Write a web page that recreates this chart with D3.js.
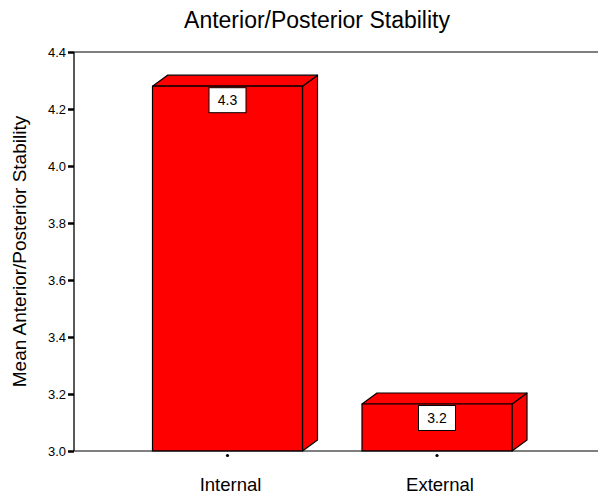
<!DOCTYPE html>
<html>
<head>
<meta charset="utf-8">
<script src="https://cdn.jsdelivr.net/npm/d3@7"></script>
<style>
  html, body { margin: 0; padding: 0; background: #fff; }
  svg { display: block; font-family: Arial, "Liberation Sans", sans-serif; }
</style>
</head>
<body>
<svg id="chart" width="598" height="497"></svg>
<script>
const categories = ["Internal", "External"];
const values = [4.28, 3.165];
const yTicks = [3.0, 3.2, 3.4, 3.6, 3.8, 4.0, 4.2, 4.4];
const titleText = "Anterior/Posterior Stability";
const yLabelText = "Mean Anterior/Posterior Stability";

const svg = d3.select("#chart");
const W = 598, H = 497;
const plot = { left: 74, right: 598, top: 52, bottom: 451 };

const y = d3.scaleLinear().domain([3.0, 4.4]).range([plot.bottom, plot.top]);
const x = d3.scalePoint().domain(categories).range([227.5, 437]);
const barW = 150, dx = 15, dy = 11;
const fmt = d3.format(".1f");

// Title
svg.append("text")
  .attr("x", 317).attr("y", 27.5)
  .attr("text-anchor", "middle")
  .attr("font-size", 23).attr("fill", "#000")
  .text(titleText);

// Y label
svg.append("text")
  .attr("transform", `translate(26,${(113 + 390) / 2}) rotate(-90)`)
  .attr("text-anchor", "middle")
  .attr("font-size", 19).attr("fill", "#000")
  .text(yLabelText);

// Bars (3D)
const bars = svg.append("g");
categories.forEach((c, i) => {
  const cx = x(c);
  const x0 = cx - barW / 2, x1 = cx + barW / 2;
  const yt = y(values[i]), yb = y(3.0);
  const g = bars.append("g").attr("stroke", "#000").attr("stroke-width", 1.2).attr("fill", "#ff0000").attr("stroke-linejoin", "round");
  g.append("path").attr("d", `M${x1},${yb} L${x1 + dx},${yb - dy} L${x1 + dx},${yt - dy} L${x1},${yt} Z`);
  g.append("path").attr("d", `M${x0},${yt} L${x0 + dx},${yt - dy} L${x1 + dx},${yt - dy} L${x1},${yt} Z`);
  g.append("rect").attr("x", x0).attr("y", yt).attr("width", barW).attr("height", yb - yt);
  const bw = 37, bh = 25;
  svg.append("rect").attr("x", cx - bw / 2).attr("y", yt + 1.5).attr("width", bw).attr("height", bh)
    .attr("fill", "#fff").attr("stroke", "#000").attr("stroke-width", 1);
  svg.append("text").attr("x", cx).attr("y", yt + 1.5 + bh / 2 + 5)
    .attr("text-anchor", "middle").attr("font-size", 14).attr("fill", "#000")
    .text(fmt(values[i]));
});

// Frame lines: top and bottom
svg.append("line").attr("x1", plot.left).attr("x2", plot.right).attr("y1", plot.top).attr("y2", plot.top)
  .attr("stroke", "#000").attr("stroke-width", 1.2);
svg.append("line").attr("x1", plot.left).attr("x2", plot.right).attr("y1", plot.bottom).attr("y2", plot.bottom)
  .attr("stroke", "#000").attr("stroke-width", 1.2);

// Y axis
const yAxis = d3.axisLeft(y).tickValues(yTicks).tickFormat(fmt).tickSize(6).tickPadding(2);
const ya = svg.append("g").attr("transform", `translate(${plot.left},0)`).call(yAxis);
ya.select(".domain").attr("stroke", "#000").attr("stroke-width", 1.3).attr("d", `M0,${plot.top}V${plot.bottom}`);
ya.selectAll(".tick line").attr("stroke", "#000").attr("stroke-width", 2.5);
ya.selectAll(".tick text").attr("font-size", 13).attr("fill", "#000").attr("font-family", "Arial, 'Liberation Sans', sans-serif");

// X category dots and labels
categories.forEach(c => {
  svg.append("circle").attr("cx", x(c)).attr("cy", plot.bottom + 4.5).attr("r", 1.6).attr("fill", "#000");
  svg.append("text").attr("x", x(c) + 3).attr("y", 491)
    .attr("text-anchor", "middle").attr("font-size", 18.5).attr("fill", "#000")
    .text(c);
});
</script>
</body>
</html>
